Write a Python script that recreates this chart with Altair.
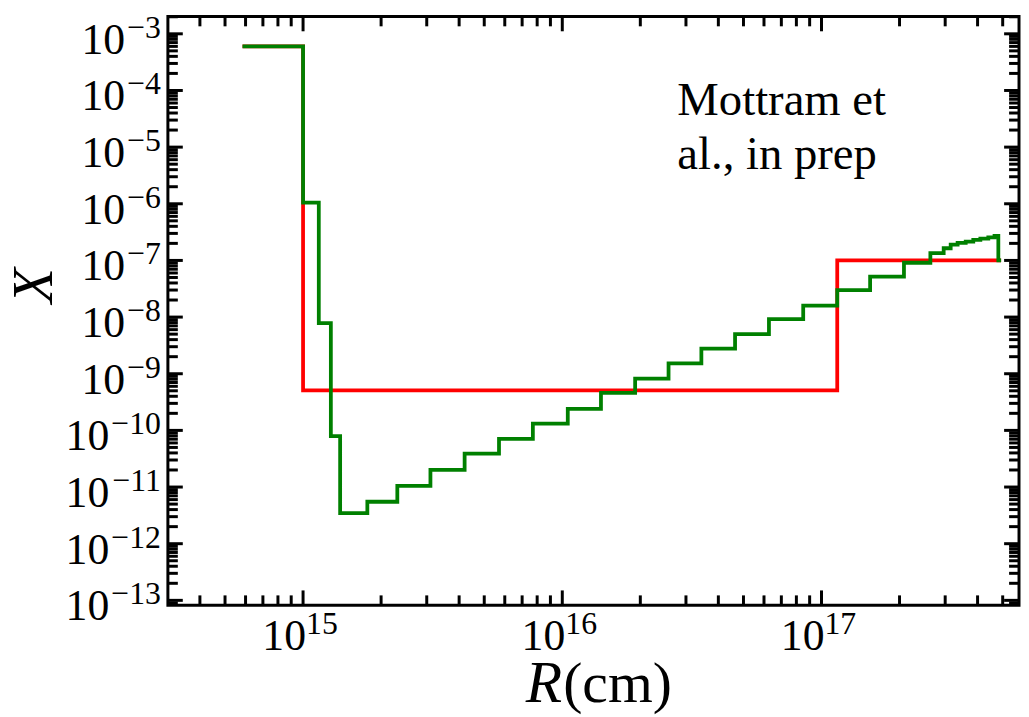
import altair as alt
import pandas as pd

# ---------------- data ----------------
red_r = [5.84e14, 1.0e15, 1.15e17, 4.93e17]
red_x = [6.0e-4, 5.1e-10, 1.0e-7, 1.0e-7]

green_r = [5.84e14, 1.0e15, 1.15e15, 1.28e15, 1.39e15, 1.77e15, 2.31e15, 3.10e15,
           4.2e15, 5.7e15, 7.7e15, 1.05e16, 1.41e16, 1.91e16, 2.57e16, 3.44e16,
           4.64e16, 6.27e16, 8.5e16, 1.15e17, 1.54e17, 2.08e17, 2.63e17, 2.96e17,
           3.15e17, 3.35e17, 3.6e17, 3.85e17, 4.1e17, 4.4e17, 4.65e17, 4.81e17, 4.93e17]
green_x = [6.0e-4, 1.05e-6, 7.8e-9, 7.9e-11, 3.45e-12, 5.5e-12, 1.05e-11, 2.0e-11,
           3.9e-11, 7.1e-11, 1.32e-10, 2.4e-10, 4.6e-10, 8.2e-10, 1.52e-9, 2.77e-9,
           5.0e-9, 9.2e-9, 1.6e-8, 3.0e-8, 5.2e-8, 9.1e-8, 1.35e-7, 1.64e-7,
           1.9e-7, 2.05e-7, 2.15e-7, 2.3e-7, 2.42e-7, 2.55e-7, 2.7e-7, 1.0e-7, 1.0e-7]

x_tick_exponents = [15, 16, 17]
y_tick_exponents = [-3, -4, -5, -6, -7, -8, -9, -10, -11, -12, -13]
x_minor_decades = [14, 15, 16, 17]
y_minor_decades = [-14, -13, -12, -11, -10, -9, -8, -7, -6, -5, -4, -3]
minor_mult = [2, 3, 4, 5, 6, 7, 8, 9]

annotation_lines = ["Mottram et", "al., in prep"]
x_title_italic = "R"
x_title_roman = "(cm)"
y_title = "X"

X_DOMAIN = [3.01e14, 5.78e17]
Y_DOMAIN = [8.17e-14, 2.03e-3]

# ---------------- layout ----------------
W, H = 857, 593
FONT = "Liberation Serif"
MAJ, MIN, TW = 15, 10, 3
LW = 3.8

xs = alt.Scale(type="log", domain=X_DOMAIN, nice=False)
ys = alt.Scale(type="log", domain=Y_DOMAIN, nice=False)


def sup(e):
    return str(e).replace("-", "\u2212")


red_df = pd.DataFrame({"R": red_r, "X": red_x})
green_df = pd.DataFrame({"R": green_r, "X": green_x})

red = alt.Chart(red_df).mark_line(color="#ff0000", strokeWidth=LW,
                                  interpolate="step-after", clip=True).encode(
    x=alt.X("R:Q", scale=xs, axis=None), y=alt.Y("X:Q", scale=ys, axis=None))
green = alt.Chart(green_df).mark_line(color="#008000", strokeWidth=LW,
                                      interpolate="step-after", clip=True).encode(
    x=alt.X("R:Q", scale=xs, axis=None), y=alt.Y("X:Q", scale=ys, axis=None))

# tick values
x_major = [10.0 ** e for e in x_tick_exponents]
y_major = [10.0 ** e for e in y_tick_exponents]
x_minor = [m * 10.0 ** e for e in x_minor_decades for m in minor_mult]
x_minor = [v for v in x_minor if X_DOMAIN[0] < v < X_DOMAIN[1]]
y_minor = [m * 10.0 ** e for e in y_minor_decades for m in minor_mult]
y_minor = [v for v in y_minor if Y_DOMAIN[0] < v < Y_DOMAIN[1]]

xmaj_df = pd.DataFrame({"v": x_major})
xmin_df = pd.DataFrame({"v": x_minor})
ymaj_df = pd.DataFrame({"v": y_major})
ymin_df = pd.DataFrame({"v": y_minor})


def xticks(df, length):
    xe = alt.X("v:Q", scale=xs, axis=None)
    bottom = alt.Chart(df).mark_rule(color="black", strokeWidth=TW).encode(
        x=xe, y=alt.value(H), y2=alt.value(H - length))
    top = alt.Chart(df).mark_rule(color="black", strokeWidth=TW).encode(
        x=xe, y=alt.value(0), y2=alt.value(length))
    return [bottom, top]


def yticks(df, length):
    ye = alt.Y("v:Q", scale=ys, axis=None)
    left = alt.Chart(df).mark_rule(color="black", strokeWidth=TW).encode(
        y=ye, x=alt.value(0), x2=alt.value(length))
    right = alt.Chart(df).mark_rule(color="black", strokeWidth=TW).encode(
        y=ye, x=alt.value(W), x2=alt.value(W - length))
    return [left, right]


ticks = xticks(xmaj_df, MAJ) + xticks(xmin_df, MIN) + yticks(ymaj_df, MAJ) + yticks(ymin_df, MIN)

# tick labels
xlab_df = pd.DataFrame({"v": x_major, "base": ["10"] * len(x_major),
                        "exp": [sup(e) for e in x_tick_exponents]})
xbase = alt.Chart(xlab_df).mark_text(align="right", baseline="alphabetic", dx=3,
                                     font=FONT, fontSize=44, color="black").encode(
    x=alt.X("v:Q", scale=xs, axis=None), y=alt.value(H + 45), text="base:N")
xexp = alt.Chart(xlab_df).mark_text(align="left", baseline="alphabetic", dx=3,
                                    font=FONT, fontSize=32, color="black").encode(
    x=alt.X("v:Q", scale=xs, axis=None), y=alt.value(H + 29), text="exp:N")

ylab_df = pd.DataFrame({"v": y_major, "base": ["10"] * len(y_major),
                        "exp": [sup(e) for e in y_tick_exponents],
                        "nd": [len(str(abs(e))) for e in y_tick_exponents]})
ylabels = []
for nd, base_x in [(1, -43), (2, -59)]:
    sub = ylab_df[ylab_df["nd"] == nd]
    ylabels.append(alt.Chart(sub).mark_text(align="right", baseline="alphabetic", dy=20,
                                            font=FONT, fontSize=44, color="black").encode(
        y=alt.Y("v:Q", scale=ys, axis=None), x=alt.value(base_x), text="base:N"))
    ylabels.append(alt.Chart(sub).mark_text(align="right", baseline="alphabetic", dy=4,
                                            font=FONT, fontSize=32, color="black").encode(
        y=alt.Y("v:Q", scale=ys, axis=None), x=alt.value(-7), text="exp:N"))

# titles
t_df = pd.DataFrame({"a": [x_title_italic], "b": [x_title_roman], "c": [y_title],
                     "n": ["\n".join(annotation_lines)]})
xt1 = alt.Chart(t_df).mark_text(align="right", baseline="alphabetic", font=FONT,
                                fontSize=60, fontStyle="italic", color="black").encode(
    x=alt.value(397), y=alt.value(H + 97), text="a:N")
xt2 = alt.Chart(t_df).mark_text(align="left", baseline="alphabetic", font=FONT,
                                fontSize=58, color="black").encode(
    x=alt.value(398), y=alt.value(H + 97), text="b:N")
yt = alt.Chart(t_df).mark_text(align="center", baseline="middle", angle=270, font=FONT,
                               fontSize=58, fontStyle="italic", color="black").encode(
    x=alt.value(-134), y=alt.value(271), text="c:N")
note = alt.Chart(t_df).mark_text(align="left", baseline="alphabetic", font=FONT,
                                 fontSize=47, lineBreak="\n", lineHeight=55,
                                 color="black").encode(
    x=alt.value(513), y=alt.value(99), text="n:N")

chart = alt.layer(red, green, *ticks, xbase, xexp, *ylabels, xt1, xt2, yt, note).properties(
    width=W, height=H,
    padding={"left": 161, "top": 6, "right": 2, "bottom": 110},
    autosize=alt.AutoSizeParams(type="none"),
    background="white",
).configure_view(stroke="black", strokeWidth=3)

chart.save("out.html", embed_options={"renderer": "svg", "actions": False})
